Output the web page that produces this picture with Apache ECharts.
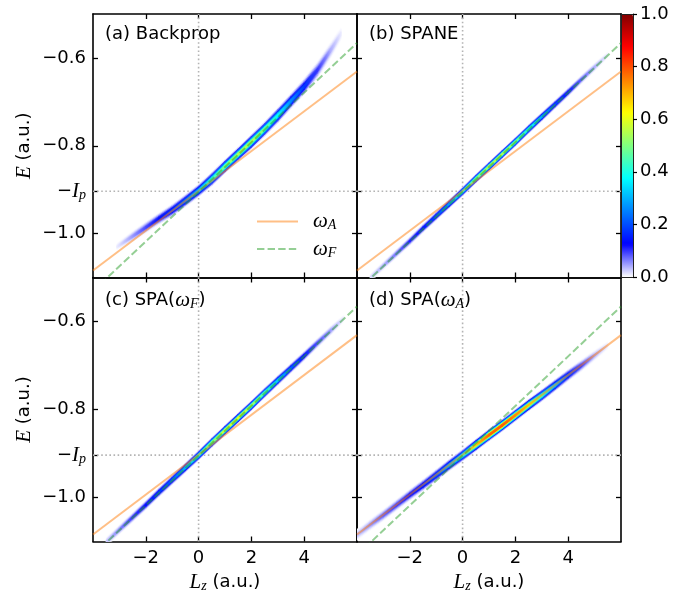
<!DOCTYPE html>
<html><head><meta charset="utf-8">
<script src="https://cdn.jsdelivr.net/npm/echarts@6/dist/echarts.min.js"></script>
<style>html,body{margin:0;padding:0;background:#fff}#c{width:693px;height:595px}</style>
</head><body><div id="c"></div>
<script>
// ---------- data ----------
const Ip = 0.9036;
const xRange = [-4, 6];
const yRange = [-1.1, -0.5];
const xTicks = [-2, 0, 2, 4];
const yTicks = [-1.0, -Ip, -0.8, -0.6];
const cbTicks = [0, 0.2, 0.4, 0.6, 0.8, 1.0];
const panelTitles = ['(a) Backprop', '(b) SPANE', '(c) SPA({i|ω}{s|F})', '(d) SPA({i|ω}{s|A})'];
const legendNames = ['ωA', 'ωF'];

// reference lines (endpoints)
const omegaA_Lz = [-4, 6];
const omegaA_E = [-1.084, -0.631];
const omegaF_Lz = [-4, 6];
const omegaF_E = [-1.131, -0.566];

// ridge (a) Backprop
const a_Lz = [-3.1,-2.5,-2.0,-1.5,-1.0,-0.5,0,0.5,1.0,1.5,2.0,2.5,3.0,3.5,4.0,4.5,5.0,5.4];
const a_E  = [-1.030,-1.006,-0.986,-0.966,-0.947,-0.925,-0.902,-0.876,-0.847,-0.819,-0.791,-0.762,-0.731,-0.698,-0.665,-0.628,-0.583,-0.545];
const a_I  = [0.01,0.05,0.09,0.14,0.18,0.24,0.32,0.42,0.50,0.55,0.55,0.48,0.38,0.26,0.18,0.10,0.04,0.01];
const a_W  = [0.009,0.012,0.013,0.013,0.014,0.014,0.014,0.015,0.015,0.015,0.016,0.016,0.017,0.017,0.018,0.019,0.019,0.017];

// ridge (b) SPANE
const b_Lz = [-3.5,-3,-2.5,-2,-1.5,-1,-0.5,0,0.5,1,1.5,2,2.5,3,3.5,4,4.5,5,5.5];
const b_E  = [-1.101,-1.073,-1.045,-1.017,-0.988,-0.960,-0.932,-0.904,-0.875,-0.847,-0.819,-0.791,-0.762,-0.734,-0.706,-0.678,-0.649,-0.621,-0.593];
const b_I  = [0.02,0.04,0.07,0.11,0.15,0.20,0.28,0.40,0.50,0.56,0.56,0.50,0.40,0.30,0.20,0.15,0.08,0.04,0.01];
const b_W  = [0.010,0.010,0.010,0.010,0.010,0.010,0.010,0.010,0.010,0.010,0.010,0.010,0.010,0.010,0.010,0.010,0.010,0.010,0.008];

// ridge (c) SPA(wF)
const c_Lz = [-3.5,-3,-2.5,-2,-1.5,-1,-0.5,0,0.5,1,1.5,2,2.5,3,3.5,4,4.5,5,5.5];
const c_E  = [-1.101,-1.073,-1.045,-1.017,-0.988,-0.960,-0.932,-0.904,-0.875,-0.847,-0.819,-0.791,-0.762,-0.734,-0.706,-0.678,-0.649,-0.621,-0.593];
const c_I  = [0.03,0.06,0.10,0.14,0.18,0.22,0.30,0.42,0.52,0.58,0.60,0.55,0.45,0.33,0.22,0.16,0.09,0.05,0.01];
const c_W  = [0.011,0.011,0.011,0.011,0.011,0.011,0.011,0.011,0.011,0.011,0.011,0.011,0.011,0.011,0.011,0.011,0.011,0.011,0.009];

// ridge (d) SPA(wA)
const d_Lz = [-4,-3.5,-3,-2.5,-2,-1.5,-1,-0.5,0,0.5,1,1.5,2,2.5,3,3.5,4,4.5,5,5.5];
const d_E  = [-1.085,-1.062,-1.040,-1.017,-0.994,-0.972,-0.949,-0.926,-0.904,-0.881,-0.858,-0.836,-0.813,-0.790,-0.768,-0.745,-0.722,-0.700,-0.677,-0.654];
const d_I  = [0.03,0.05,0.08,0.10,0.13,0.17,0.22,0.30,0.42,0.62,0.80,0.82,0.74,0.62,0.47,0.33,0.20,0.10,0.04,0.01];
const d_W  = [0.013,0.013,0.013,0.013,0.013,0.013,0.013,0.013,0.013,0.013,0.013,0.013,0.013,0.013,0.013,0.013,0.013,0.013,0.012,0.010];

// ---------- styling ----------
const FONT = 'DejaVu Sans';
const MATH = 'Liberation Serif';
const cmap = ['#ffffff','#0000ff','#0080ff','#00ffff','#80ff80','#ffff00','#ff8000','#ff0000','#800000'];
const layers = [{i:0.05,w:1.0},{i:0.2,w:0.8},{i:0.45,w:0.6},{i:0.75,w:0.4},{i:1.0,w:0.22}];
const richMath = {
  n:{fontFamily:FONT,fontSize:18,color:'#000'},
  i:{fontFamily:MATH,fontStyle:'italic',fontSize:21,color:'#000',lineHeight:22},
  s:{fontFamily:MATH,fontStyle:'italic',fontSize:14,color:'#000',verticalAlign:'bottom',lineHeight:14}
};
const panels = [
  {Lz:a_Lz,E:a_E,I:a_I,W:a_W},
  {Lz:b_Lz,E:b_E,I:b_I,W:b_W},
  {Lz:c_Lz,E:c_E,I:c_I,W:c_W},
  {Lz:d_Lz,E:d_E,I:d_I,W:d_W}
];
const gridBoxes = [
  {left:93,top:14,width:264,height:263.5},
  {left:357,top:14,width:264,height:263.5},
  {left:93,top:277.5,width:264,height:264},
  {left:357,top:277.5,width:264,height:264}
];
const titlePos = [[105,25],[369,25],[105,289],[369,289]];

const minus = '\u2212';
function fmtX(v){ return v < 0 ? minus + Math.abs(v) : String(v); }
function fmtY(v){ return Math.abs(v + Ip) < 1e-6 ? '{n|' + minus + '}{i|I}{s|p}' : minus + Math.abs(v).toFixed(1); }

function renderRidge(params, api){
  const i = params.dataIndexInside;
  if (i >= params.dataInsideLength - 1) return null;
  const x0 = api.value(0,i), y0 = api.value(1,i), w0 = api.value(3,i);
  const x1 = api.value(0,i+1), y1 = api.value(1,i+1), w1 = api.value(3,i+1);
  const p0a = api.coord([x0, y0 + w0]), p0b = api.coord([x0, y0 - w0]);
  const p1a = api.coord([x1, y1 + w1]), p1b = api.coord([x1, y1 - w1]);
  const c0 = api.visual('color', i), c1 = api.visual('color', i+1);
  const grad = new echarts.graphic.LinearGradient(p0a[0], 0, p1a[0], 0,
    [{offset:0,color:c0},{offset:1,color:c1}], true);
  return {type:'polygon', shape:{points:[p0a,p1a,p1b,p0b]},
    style:{fill:grad, stroke:grad, lineWidth:0.6}};
}

const grids = [], xAxes = [], yAxes = [], series = [], ridgeIdx = [];
const axisLine = {show:true,onZero:false,lineStyle:{color:'#000',width:1.6}};
gridBoxes.forEach((b,g)=>{
  grids.push(Object.assign({containLabel:false,outerBoundsMode:'none'}, b));
  const bottomRow = g >= 2, leftCol = g % 2 === 0;
  ['bottom','top'].forEach(pos=>{
    const main = pos === 'bottom';
    xAxes.push({type:'value',gridIndex:g,position:pos,min:xRange[0],max:xRange[1],
      name: (main && bottomRow) ? '{i|L}{s|z} (a.u.)' : '', nameLocation:'middle', nameGap:30,
      nameTextStyle:{fontFamily:FONT,fontSize:18,color:'#000',rich:richMath},
      axisLine:axisLine,
      axisTick:{show:true,inside:true,length:5,customValues:xTicks,lineStyle:{color:'#000',width:1.3}},
      axisLabel:{show: main && bottomRow,customValues:xTicks,formatter:fmtX,fontFamily:FONT,fontSize:18,color:'#000',margin:8},
      splitLine:{show:false}});
  });
  ['left','right'].forEach(pos=>{
    const main = pos === 'left';
    yAxes.push({type:'value',gridIndex:g,position:pos,min:yRange[0],max:yRange[1],
      name: (main && leftCol) ? '{i|E} (a.u.)' : '', nameLocation:'middle', nameGap:58, nameRotate:90,
      nameTextStyle:{fontFamily:FONT,fontSize:18,color:'#000',rich:richMath},
      axisLine:axisLine,
      axisTick:{show:true,inside:true,length:5,customValues:yTicks,lineStyle:{color:'#000',width:1.3}},
      axisLabel:{show: main && leftCol,customValues:yTicks,formatter:fmtY,fontFamily:FONT,fontSize:18,color:'#000',margin:7,rich:richMath},
      splitLine:{show:false}});
  });
  const xi = 2*g, yi = 2*g;
  const dotted = {color:'#b4b4b4',width:1.6,type:[1.6,2.5]};
  series.push({type:'line',xAxisIndex:xi,yAxisIndex:yi,data:[[0,yRange[0]],[0,yRange[1]]],symbol:'none',lineStyle:dotted,silent:true,z:1});
  series.push({type:'line',xAxisIndex:xi,yAxisIndex:yi,data:[[xRange[0],-Ip],[xRange[1],-Ip]],symbol:'none',lineStyle:dotted,silent:true,z:1});
  const p = panels[g];
  layers.forEach(lf=>{
    ridgeIdx.push(series.length);
    series.push({type:'custom',xAxisIndex:xi,yAxisIndex:yi,renderItem:renderRidge,clip:true,silent:true,z:2,
      data:p.Lz.map((x,j)=>[x,p.E[j],p.I[j]*lf.i,p.W[j]*lf.w])});
  });
  series.push({type:'line',name:'ωA',xAxisIndex:xi,yAxisIndex:yi,symbol:'none',silent:true,z:3,
    color:'rgba(255,127,14,0.5)',lineStyle:{color:'rgba(255,127,14,0.5)',width:2},
    data:omegaA_Lz.map((x,j)=>[x,omegaA_E[j]])});
  series.push({type:'line',name:'ωF',xAxisIndex:xi,yAxisIndex:yi,symbol:'none',silent:true,z:3,
    color:'rgba(44,160,44,0.5)',lineStyle:{color:'rgba(44,160,44,0.5)',width:2,type:[7.4,3.2]},
    data:omegaF_Lz.map((x,j)=>[x,omegaF_E[j]])});
});

// colorbar grid
grids.push({left:621,top:14,width:12,height:263,containLabel:false,outerBoundsMode:'none'});
const cbLine = {show:true,onZero:false,lineStyle:{color:'#222',width:1}};
xAxes.push({type:'value',gridIndex:4,position:'bottom',min:0,max:1,axisLine:cbLine,axisTick:{show:false},axisLabel:{show:false},splitLine:{show:false},z:10});
xAxes.push({type:'value',gridIndex:4,position:'top',min:0,max:1,axisLine:cbLine,axisTick:{show:false},axisLabel:{show:false},splitLine:{show:false},z:10});
yAxes.push({type:'value',gridIndex:4,position:'left',min:0,max:1,axisLine:cbLine,axisTick:{show:false},axisLabel:{show:false},splitLine:{show:false},z:10});
yAxes.push({type:'value',gridIndex:4,position:'right',min:0,max:1,axisLine:cbLine,
  axisTick:{show:true,inside:false,length:4,customValues:cbTicks,lineStyle:{color:'#000',width:1.2}},
  axisLabel:{customValues:cbTicks,formatter:v=>v.toFixed(1),fontFamily:FONT,fontSize:18,color:'#000',margin:7},
  splitLine:{show:false},z:10});
series.push({type:'line',xAxisIndex:8,yAxisIndex:9,data:[],silent:true});

const option = {
  animation:false,
  backgroundColor:'#fff',
  title: panelTitles.map((t,k)=>({text:t,left:titlePos[k][0],top:titlePos[k][1],padding:0,
    textStyle:{fontFamily:FONT,fontSize:18,fontWeight:'normal',color:'#000',rich:richMath}})),
  legend:{data:legendNames,orient:'vertical',left:256,top:211,padding:0,itemWidth:41,itemHeight:14,itemGap:6,
    selectedMode:false,
    itemStyle:{opacity:0,color:'rgba(0,0,0,0)',borderWidth:0},
    formatter:n=> n==='ωA' ? '{i|ω}{s|A}' : '{i|ω}{s|F}',
    textStyle:{fontFamily:MATH,fontSize:21,color:'#000',
      rich:{i:{fontFamily:MATH,fontStyle:'italic',fontSize:21,color:'#000',lineHeight:22,padding:[0,0,0,10]},
            s:{fontFamily:MATH,fontStyle:'italic',fontSize:14,color:'#000',verticalAlign:'bottom',lineHeight:14}}}},
  visualMap:{type:'continuous',min:0,max:1,dimension:2,seriesIndex:ridgeIdx,inRange:{color:cmap},
    left:621,top:14,itemWidth:12,itemHeight:263,calculable:false,padding:0,orient:'vertical',z:4},
  grid:grids, xAxis:xAxes, yAxis:yAxes, series:series
};
const chart = echarts.init(document.getElementById('c'), null, {renderer:'canvas'});
chart.setOption(option);
</script></body></html>
